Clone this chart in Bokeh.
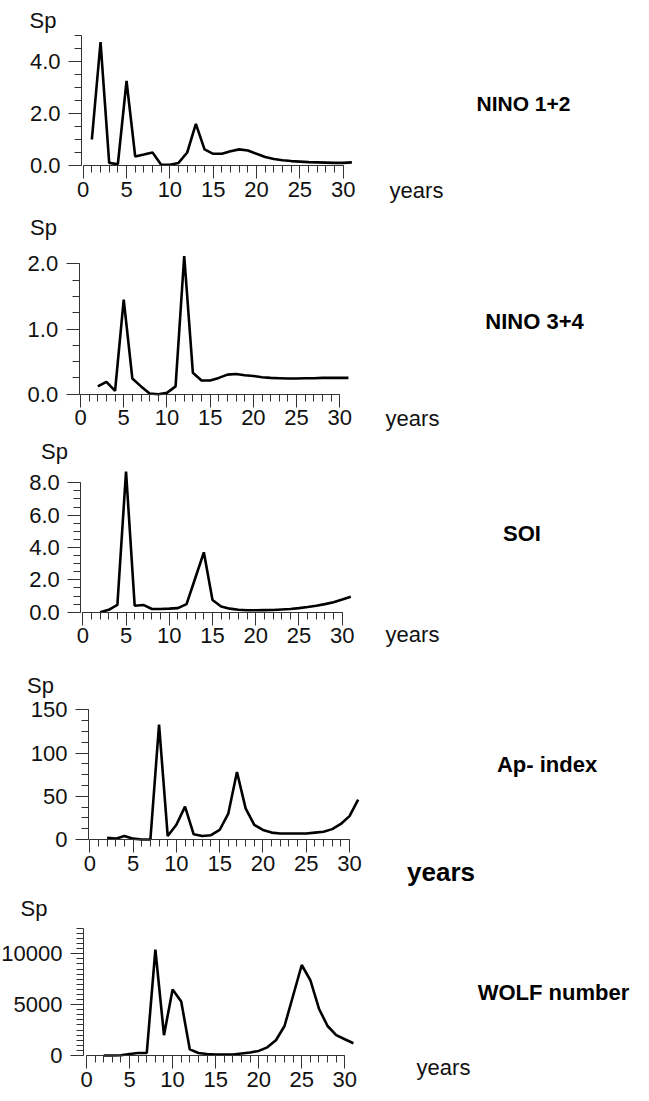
from bokeh.plotting import figure
from bokeh.models import LinearAxis, SingleIntervalTicker, NumeralTickFormatter, Label, Range1d
from bokeh.layouts import column
from bokeh.embed import file_html
from bokeh.resources import INLINE

# ---------------- data ----------------
nino12_x = list(range(1, 32))
nino12_y = [1.0, 4.75, 0.1, 0.05, 3.25, 0.35, 0.42, 0.5, 0.03, 0.03, 0.1, 0.5, 1.6,
            0.62, 0.45, 0.45, 0.55, 0.62, 0.58, 0.45, 0.33, 0.25, 0.2, 0.17, 0.15,
            0.13, 0.12, 0.11, 0.1, 0.1, 0.12]

nino34_x = list(range(2, 32))
nino34_y = [0.12, 0.19, 0.05, 1.45, 0.24, 0.12, 0.01, 0.0, 0.02, 0.12, 2.12, 0.33,
            0.21, 0.21, 0.25, 0.30, 0.31, 0.29, 0.28, 0.26, 0.25, 0.245, 0.24, 0.24,
            0.245, 0.245, 0.25, 0.25, 0.25, 0.25]

soi_x = list(range(2, 32))
soi_y = [0.0, 0.15, 0.45, 8.7, 0.4, 0.45, 0.2, 0.2, 0.22, 0.25, 0.5, 2.1, 3.7, 0.75,
         0.35, 0.22, 0.15, 0.12, 0.12, 0.13, 0.14, 0.17, 0.2, 0.25, 0.32, 0.4, 0.5,
         0.62, 0.78, 0.95]

ap_x = list(range(2, 32))
ap_y = [2, 1, 4, 1, 0, 0, 133, 4, 17, 38, 6, 4, 5, 11, 30, 78, 36, 17, 11, 8, 7, 7,
        7, 7, 8, 9, 12, 18, 27, 46]

wolf_x = list(range(2, 32))
wolf_y = [0, 0, 20, 150, 250, 250, 10400, 2000, 6500, 5300, 600, 250, 150, 100, 100,
          100, 200, 300, 450, 800, 1500, 2900, 5900, 8900, 7400, 4600, 2900, 2000,
          1600, 1200]

titles = ["NINO 1+2", "NINO 3+4", "SOI", "Ap- index", "WOLF number"]
y_label = "Sp"
x_label = "years"
x_ticks_interval = 5
x_max = 30

NORMAL = "Liberation Sans, Arial, sans-serif"
BOLD = "Liberation Sans, Arial, sans-serif"

W = 645
LEFT_PAGE = 0

# layout of each panel (page pixel geometry)
panels = [
    dict(xs=nino12_x, ys=nino12_y, T=0, H=208, x0=82.7, x30=342.7, y0=165.0, yref=35.0, yref_val=5.0,
         yaxis_px=81.0, ytop=5.0, ymajor=2.0, yminor=4, fmt="0.0",
         sp=(42.5, 20.3), title=(523, 103), title_size=21, years=(416, 190), years_bold=False),
    dict(xs=nino34_x, ys=nino34_y, T=208, H=228, x0=80.0, x30=339.3, y0=393.7, yref=263.3, yref_val=2.0,
         yaxis_px=78.7, ytop=2.0, ymajor=1.0, yminor=4, fmt="0.0",
         sp=(43, 227), title=(534, 321), title_size=22, years=(412, 418), years_bold=False),
    dict(xs=soi_x, ys=soi_y, T=436, H=224, x0=82.3, x30=341.7, y0=611.7, yref=482.3, yref_val=8.0,
         yaxis_px=80.3, ytop=8.0, ymajor=2.0, yminor=4, fmt="0.0",
         sp=(54, 450.5), title=(521.5, 533), title_size=22, years=(412, 634), years_bold=False),
    dict(xs=ap_x, ys=ap_y, T=660, H=232, x0=89.3, x30=349.0, y0=839.0, yref=709.3, yref_val=150.0,
         yaxis_px=88.0, ytop=150.0, ymajor=50.0, yminor=4, fmt="0",
         sp=(40, 684.5), title=(546.5, 764), title_size=22, years=(440.5, 871), years_bold=True),
    dict(xs=wolf_x, ys=wolf_y, T=892, H=206, x0=86.0, x30=344.3, y0=1055.0, yref=953.3, yref_val=10000.0,
         yaxis_px=83.0, ytop=12500.0, ymajor=5000.0, yminor=10, fmt="0",
         sp=(33.5, 907.5), title=(553, 992), title_size=22, years=(443, 1067), years_bold=False),
]

figs = []
for i, pd in enumerate(panels):
    sx = (pd["x30"] - pd["x0"]) / 30.0
    sy = (pd["y0"] - pd["yref"]) / pd["yref_val"]
    T, H = pd["T"], pd["H"]

    def dx(px, pd=pd, sx=sx):
        return (px - pd["x0"]) / sx

    def dy(py, pd=pd, sy=sy):
        return (pd["y0"] - py) / sy

    p = figure(width=W, height=H, output_backend="svg", toolbar_location=None,
               x_axis_location=None, y_axis_location=None,
               x_range=Range1d(dx(LEFT_PAGE), dx(LEFT_PAGE + W)),
               y_range=Range1d(dy(T + H), dy(T)),
               min_border=0, min_border_left=0, min_border_right=0,
               min_border_top=0, min_border_bottom=0,
               outline_line_color=None, background_fill_color="white",
               border_fill_color="white")
    for g in p.grid:
        g.visible = False

    xaxis = LinearAxis(fixed_location=0, bounds=(0, x_max),
                       ticker=SingleIntervalTicker(interval=x_ticks_interval, num_minor_ticks=5))
    yaxis = LinearAxis(fixed_location=dx(pd["yaxis_px"]), bounds=(0, pd["ytop"]),
                       ticker=SingleIntervalTicker(interval=pd["ymajor"], num_minor_ticks=pd["yminor"]),
                       formatter=NumeralTickFormatter(format=pd["fmt"]))
    for ax in (xaxis, yaxis):
        ax.axis_line_color = "#333333"
        ax.axis_line_width = 1
        ax.major_tick_line_color = "#333333"
        ax.minor_tick_line_color = "#333333"
        ax.major_tick_in = 0
        ax.minor_tick_in = 0
        ax.major_tick_out = 13
        ax.minor_tick_out = 7
        ax.major_label_text_font = NORMAL
        ax.major_label_text_font_size = "22px"
        ax.major_label_text_color = "#111111"
    xaxis.major_label_standoff = 3
    yaxis.major_label_standoff = 8
    p.add_layout(xaxis, "below")
    p.add_layout(yaxis, "left")

    p.line(pd["xs"], pd["ys"], line_color="black", line_width=2.6)

    p.add_layout(Label(x=dx(pd["sp"][0]), y=dy(pd["sp"][1]), text=y_label,
                       text_font=NORMAL, text_font_size="22px", text_color="#111111",
                       text_align="center", text_baseline="middle"))
    p.add_layout(Label(x=dx(pd["title"][0]), y=dy(pd["title"][1]), text=titles[i],
                       text_font=BOLD, text_font_style="bold",
                       text_font_size="%dpx" % pd["title_size"], text_color="black",
                       text_align="center", text_baseline="middle"))
    if pd["years_bold"]:
        p.add_layout(Label(x=dx(pd["years"][0]), y=dy(pd["years"][1]), text=x_label,
                           text_font=BOLD, text_font_style="bold", text_font_size="26px",
                           text_color="black", text_align="center", text_baseline="middle"))
    else:
        p.add_layout(Label(x=dx(pd["years"][0]), y=dy(pd["years"][1]), text=x_label,
                           text_font=NORMAL, text_font_size="22px", text_color="#111111",
                           text_align="center", text_baseline="middle"))
    figs.append(p)

layout = column(*figs, spacing=0)
open("out.html", "w").write(file_html(layout, INLINE))
